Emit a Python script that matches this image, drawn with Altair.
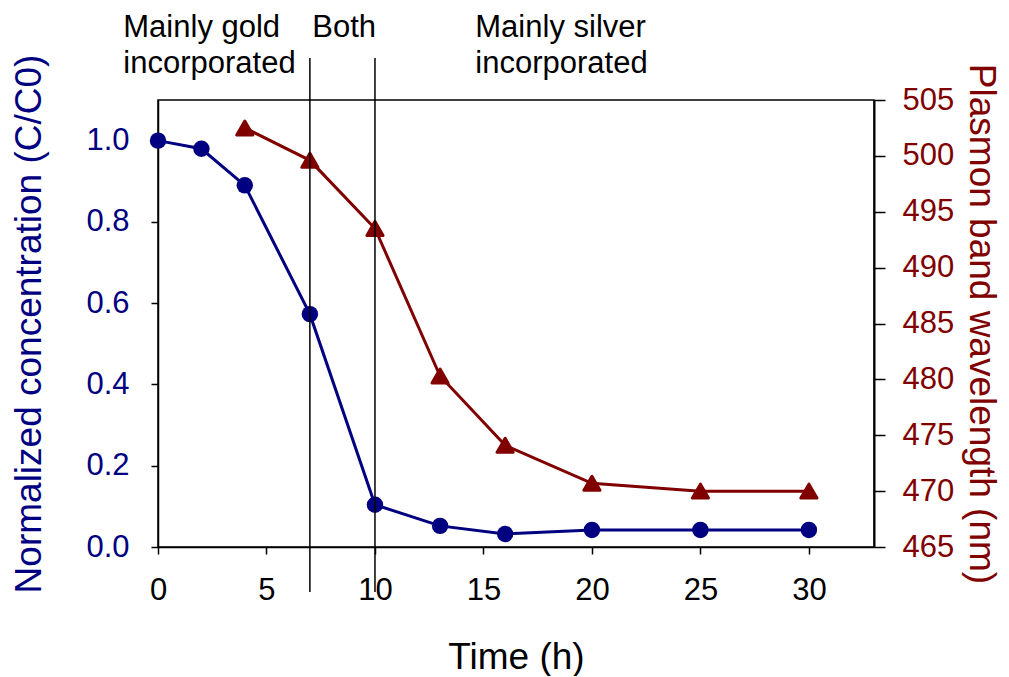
import altair as alt
import pandas as pd

# ---- data ----
time_conc = [0, 2, 4, 7, 10, 13, 16, 20, 25, 30]
concentration = [1.0, 0.98, 0.89, 0.573, 0.104, 0.052, 0.032, 0.042, 0.042, 0.042]

time_wl = [4, 7, 10, 13, 16, 20, 25, 30]
wavelength = [502.5, 499.6, 493.5, 480.3, 474.1, 470.7, 470.0, 470.0]

phase_boundaries = [7, 10]

x_ticks = [0, 5, 10, 15, 20, 25, 30]
conc_ticks = [0.0, 0.2, 0.4, 0.6, 0.8, 1.0]
wl_ticks = [465, 470, 475, 480, 485, 490, 495, 500, 505]

NAVY = "#000080"
MAROON = "#800000"
FONT = "Liberation Sans"

df_c = pd.DataFrame({"t": time_conc, "c": concentration})
df_w = pd.DataFrame({"t": time_wl, "w": wavelength})
df_b = pd.DataFrame({"t": phase_boundaries})

x_enc = alt.X(
    "t:Q",
    scale=alt.Scale(domain=[0, 33], nice=False),
    axis=alt.Axis(
        values=x_ticks,
        title="Time (h)",
        titleFontSize=37,
        titleFontWeight="normal",
        titleColor="black",
        titleY=121,
        titleBaseline="alphabetic",
        labelFontSize=31,
        labelColor="black",
        labelPadding=21,
        labelFlush=False,
        tickSize=7,
        tickColor="black",
        tickWidth=1.5,
        domainColor="black",
        domainWidth=1.5,
        grid=False,
    ),
)

y_left = alt.Y(
    "c:Q",
    scale=alt.Scale(domain=[0, 1.1], nice=False),
    axis=alt.Axis(
        orient="left",
        values=conc_ticks,
        format=".1f",
        title="Normalized concentration (C/C0)",
        titleFontSize=37,
        titleFontWeight="normal",
        titleColor=NAVY,
        titleAngle=-90,
        titleX=-118,
        titleY=223.5,
        titleAlign="center",
        titleBaseline="alphabetic",
        labelFontSize=31,
        labelColor=NAVY,
        labelPadding=22,
        labelFlush=False,
        tickSize=7,
        tickColor="black",
        tickWidth=1.5,
        domainColor="black",
        domainWidth=1.5,
        grid=False,
    ),
)

y_right = alt.Y(
    "w:Q",
    scale=alt.Scale(domain=[465, 505], nice=False, zero=False),
    axis=alt.Axis(
        orient="right",
        values=wl_ticks,
        title="Plasmon band wavelength (nm)",
        titleFontSize=37,
        titleFontWeight="normal",
        titleColor=MAROON,
        titleAngle=90,
        titleX=95,
        titleY=223.5,
        titleAlign="center",
        titleBaseline="alphabetic",
        labelFontSize=31,
        labelColor=MAROON,
        labelPadding=17,
        labelFlush=False,
        tickSize=11,
        tickColor="black",
        tickWidth=1.5,
        domainColor="black",
        domainWidth=2,
        grid=False,
    ),
)

blue_base = alt.Chart(df_c).encode(x=x_enc, y=y_left)
blue = alt.layer(
    blue_base.mark_line(color=NAVY, strokeWidth=3),
    blue_base.mark_point(shape="circle", filled=True, size=270, color=NAVY, opacity=1),
)

red_base = alt.Chart(df_w).encode(x=x_enc, y=y_right)
red = alt.layer(
    red_base.mark_line(color=MAROON, strokeWidth=3),
    red_base.mark_point(
        shape="triangle-up", filled=True, size=260, color=MAROON,
        stroke=MAROON, strokeWidth=3, strokeJoin="round", opacity=1,
    ),
)

rules = alt.Chart(df_b).mark_rule(color="black", strokeWidth=1.5).encode(
    x=x_enc, y=alt.value(-42), y2=alt.value(492)
)


def label(txt, px, py):
    return alt.Chart(pd.DataFrame({"label": [txt]})).mark_text(
        align="left", baseline="alphabetic", fontSize=31, font=FONT, color="black"
    ).encode(text="label:N", x=alt.value(px), y=alt.value(py))


texts = [
    label("Mainly gold", -34.7, -63),
    label("incorporated", -34.7, -27),
    label("Both", 154.3, -63),
    label("Mainly silver", 317.3, -63),
    label("incorporated", 317.3, -27),
]

chart = (
    alt.layer(blue, red, rules, *texts)
    .resolve_scale(y="independent")
    .properties(
        width=716,
        height=447,
        padding={"left": 150, "top": 92, "right": 127, "bottom": 129},
        autosize=alt.AutoSizeParams(type="none"),
    )
    .configure(font=FONT)
    .configure_view(stroke="black", strokeWidth=1.5)
)

chart.save("out.html", embed_options={"renderer": "svg", "actions": False})
